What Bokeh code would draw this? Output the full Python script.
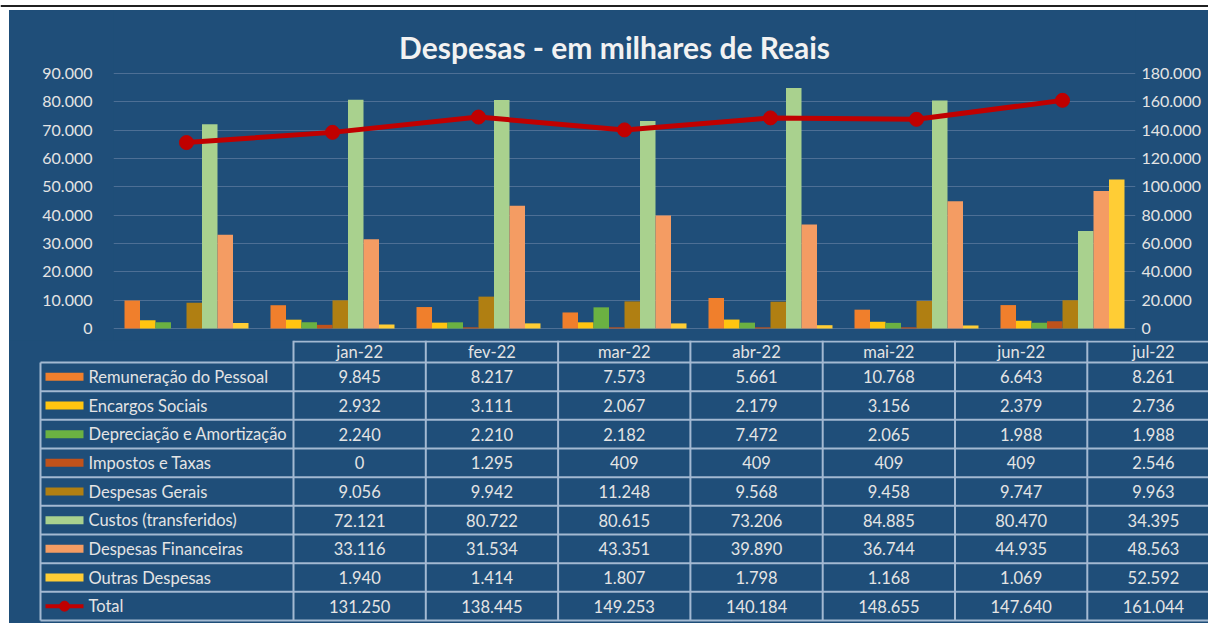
from bokeh.plotting import figure
from bokeh.models import (Range1d, LinearAxis, FixedTicker, CustomJSTickFormatter,
                          FactorRange, ColumnDataSource, Label)
from bokeh.transform import dodge
from bokeh.layouts import column
from bokeh.embed import file_html
from bokeh.resources import INLINE
from bokeh.core.properties import value

# ---------------- data ----------------
months = ["jan-22", "fev-22", "mar-22", "abr-22", "mai-22", "jun-22", "jul-22"]
series_names = ["Remuneração do Pessoal", "Encargos Sociais", "Depreciação e Amortização",
                "Impostos e Taxas", "Despesas Gerais", "Custos (transferidos)",
                "Despesas Financeiras", "Outras Despesas"]
remuneracao = [9845, 8217, 7573, 5661, 10768, 6643, 8261]
encargos = [2932, 3111, 2067, 2179, 3156, 2379, 2736]
depreciacao = [2240, 2210, 2182, 7472, 2065, 1988, 1988]
impostos = [0, 1295, 409, 409, 409, 409, 2546]
despesas_gerais = [9056, 9942, 11248, 9568, 9458, 9747, 9963]
custos = [72121, 80722, 80615, 73206, 84885, 80470, 34395]
financeiras = [33116, 31534, 43351, 39890, 36744, 44935, 48563]
outras = [1940, 1414, 1807, 1798, 1168, 1069, 52592]
total = [131250, 138445, 149253, 140184, 148655, 147640, 161044]
total_name = "Total"
title_text = "Despesas - em milhares de Reais"
left_ticks = [0, 10000, 20000, 30000, 40000, 50000, 60000, 70000, 80000, 90000]
right_ticks = [0, 20000, 40000, 60000, 80000, 100000, 120000, 140000, 160000, 180000]

series_values = [remuneracao, encargos, depreciacao, impostos, despesas_gerais,
                 custos, financeiras, outras]

# ---------------- style ----------------
BG = "#1F4E79"
GRID = "#4D6F95"
TXT = "#E4E4E4"
TABLE_LINE = "#A3B9D2"
FONT = "Lato"
colors = ["#F07F2C", "#FFC510", "#6BB142", "#C0521B", "#B07F12",
          "#A9D18E", "#F49C63", "#FFCD35"]
LINE_RED = "#C00000"

LEFT = 9      # page x where the blue panel starts
TOP = 10      # page y where the blue panel starts
W = 1208 - LEFT


def fmt(v):
    return f"{v:,}".replace(",", ".")


# ---------------- top white strip with thin black rule ----------------
strip = figure(width=1208, height=TOP, x_range=Range1d(0, 1208), y_range=Range1d(TOP, 0),
               output_backend="svg", toolbar_location=None,
               x_axis_location=None, y_axis_location=None,
               min_border_left=0, min_border_right=0, min_border_top=0, min_border_bottom=0,
               background_fill_color="white", border_fill_color="white", outline_line_color=None)
strip.frame_align = False
strip.xgrid.grid_line_color = None
strip.ygrid.grid_line_color = None
strip.segment(x0=[0], y0=[3.5], x1=[1208], y1=[3.5], line_color="#202020", line_width=2)

# ---------------- chart ----------------
px_per_unit = 255.0 / 90000.0
top_val = (328 - TOP) / px_per_unit
bot_val = -(340 - 328) / px_per_unit

src = {"month": months}
keys = []
for i, vals in enumerate(series_values):
    k = f"s{i}"
    keys.append(k)
    src[k] = vals
src["total"] = total
source = ColumnDataSource(src)

p = figure(width=W, height=340 - TOP,
           x_range=FactorRange(factors=months, range_padding=0),
           y_range=Range1d(bot_val, top_val),
           x_axis_location=None, output_backend="svg", toolbar_location=None,
           min_border_left=113 - LEFT, min_border_right=1208 - 1135,
           min_border_top=0, min_border_bottom=0,
           background_fill_color=BG, border_fill_color=BG, outline_line_color=None)
p.frame_align = False
p.margin = (0, 0, 0, LEFT)
p.styles = {"background-color": BG}
p.extra_y_ranges = {"right": Range1d(bot_val * 2, top_val * 2)}

formatter = CustomJSTickFormatter(
    code="return tick.toFixed(0).replace(/\\B(?=(\\d{3})+(?!\\d))/g, '.');")

ax = p.yaxis[0]
ax.ticker = FixedTicker(ticks=left_ticks)
ax.formatter = formatter
ax.axis_line_color = None
ax.major_tick_line_color = None
ax.minor_tick_line_color = None
ax.major_label_standoff = 15
ax.major_label_text_color = TXT
ax.major_label_text_font = FONT
ax.major_label_text_font_size = "16px"

rax = LinearAxis(y_range_name="right", ticker=FixedTicker(ticks=right_ticks),
                 formatter=formatter)
rax.axis_line_color = None
rax.major_tick_line_color = None
rax.minor_tick_line_color = None
rax.major_label_standoff = 0
rax.major_label_text_color = TXT
rax.major_label_text_font = FONT
rax.major_label_text_font_size = "16px"
p.add_layout(rax, "right")

p.xgrid.grid_line_color = None
p.ygrid.grid_line_color = GRID
p.ygrid.grid_line_width = 1

bw = 124.0 / 8.0 / 146.0
for i, k in enumerate(keys):
    p.vbar(x=dodge("month", (i - 3.5) * bw, range=p.x_range), top=k, bottom=0,
           width=bw, source=source, fill_color=colors[i], line_color=None)

p.line(x="month", y="total", y_range_name="right", source=source,
       line_color=LINE_RED, line_width=5)
p.scatter(x="month", y="total", y_range_name="right", source=source,
          size=14, fill_color=LINE_RED, line_color=LINE_RED)

p.add_layout(Label(x=3.432, y=(328 - 46) / px_per_unit, text=title_text,
                   text_align="center", text_baseline="middle",
                   text_font=FONT, text_font_style="bold", text_font_size="30px",
                   text_color="#F2F2F2"))

# ---------------- data table ----------------
t = figure(width=W, height=623 - 340, x_range=Range1d(LEFT, 1208), y_range=Range1d(623, 340),
           output_backend="svg", toolbar_location=None,
           x_axis_location=None, y_axis_location=None,
           min_border_left=0, min_border_right=0, min_border_top=0, min_border_bottom=0,
           background_fill_color=BG, border_fill_color=BG, outline_line_color=None)
t.frame_align = False
t.margin = (0, 0, 0, LEFT)
t.styles = {"background-color": BG}
t.xgrid.grid_line_color = None
t.ygrid.grid_line_color = None

col_left = 293.0
col_w = 132.3
row_top = 362.0
row_h = (620.0 - 362.0) / 9.0
n_rows = len(series_names) + 1

# vertical lines
vx = [col_left + j * col_w for j in range(len(months))]
t.segment(x0=vx, y0=[340] * len(vx), x1=vx, y1=[620] * len(vx),
          line_color=TABLE_LINE, line_width=2)
t.segment(x0=[40], y0=[row_top], x1=[40], y1=[620], line_color=TABLE_LINE, line_width=2)
# horizontal lines
t.segment(x0=[col_left], y0=[341], x1=[1210], y1=[341], line_color=TABLE_LINE, line_width=2)
hy = [row_top + r * row_h for r in range(n_rows + 1)]
t.segment(x0=[40] * len(hy), y0=hy, x1=[1210] * len(hy), y1=hy,
          line_color=TABLE_LINE, line_width=2)

# header
cx = [col_left + (j + 0.5) * col_w for j in range(len(months))]
t.text(x=cx, y=[351.5] * len(months), text=months, text_align="center",
       text_baseline="middle", text_color=TXT, text_font=value(FONT),
       text_font_size="16.5px")

# rows
all_rows = series_values + [total]
all_names = series_names + [total_name]
for r, (name, vals) in enumerate(zip(all_names, all_rows)):
    yc = row_top + (r + 0.5) * row_h
    t.text(x=cx, y=[yc] * len(vals), text=[fmt(v) for v in vals], text_align="center",
           text_baseline="middle", text_color=TXT, text_font=value(FONT),
           text_font_size="16.5px")
    t.text(x=[88], y=[yc], text=[name], text_align="left", text_baseline="middle",
           text_color=TXT, text_font=value(FONT), text_font_size="16.5px")
    if r < len(series_names):
        t.rect(x=[64], y=[yc], width=38, height=8, fill_color=colors[r], line_color=None)
    else:
        t.segment(x0=[45], y0=[yc], x1=[83], y1=[yc], line_color=LINE_RED, line_width=4)
        t.scatter(x=[64], y=[yc], size=10, fill_color=LINE_RED, line_color=LINE_RED)

layout = column(strip, p, t, spacing=0)
open("out.html", "w").write(file_html(layout, INLINE))
